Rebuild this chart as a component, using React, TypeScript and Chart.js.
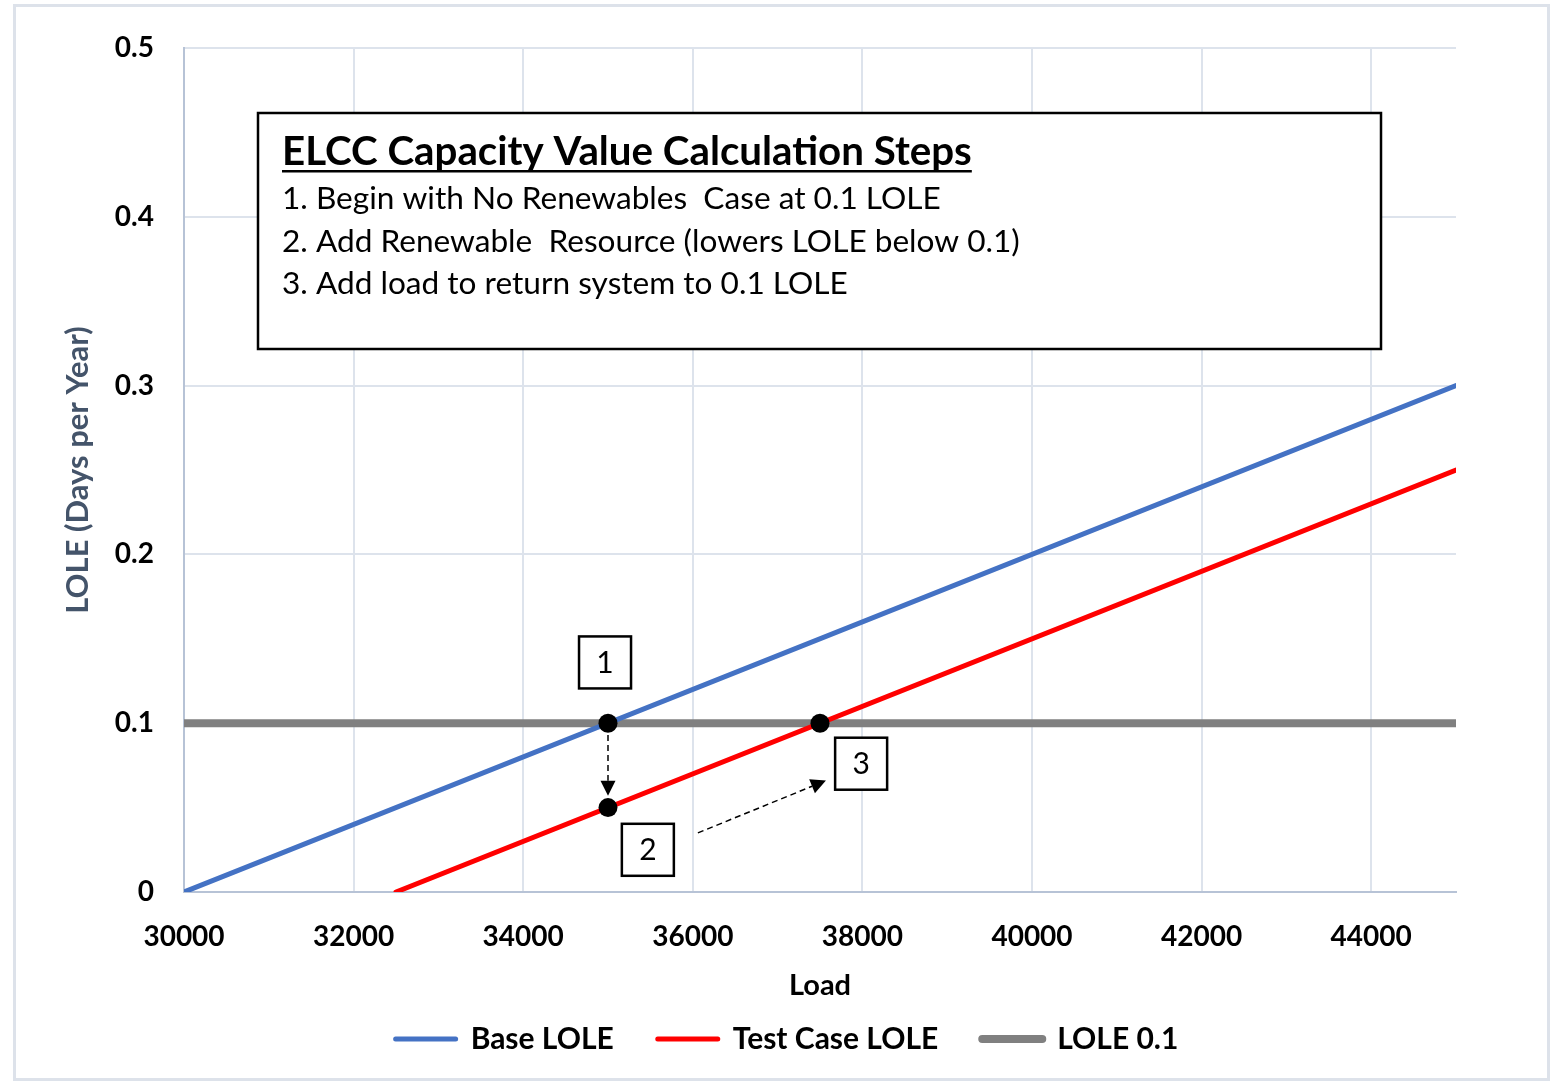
import React, { useEffect, useRef } from "react";
import { Chart, registerables } from "chart.js";

Chart.register(...registerables);

// ---------------- data ----------------
const baseLoad = [30000, 45000];
const baseLole = [0, 0.3];
const testLoad = [32500, 45000];
const testLole = [0, 0.25];
const targetLoad = [30000, 45000];
const targetLole = [0.1, 0.1];
const stepLoad = [35000, 35000, 37500];
const stepLole = [0.1, 0.05, 0.1];

const xTicks = [30000, 32000, 34000, 36000, 38000, 40000, 42000, 44000];
const yTicks = [0, 0.1, 0.2, 0.3, 0.4, 0.5];
const yTickLabels = ["0", "0.1", "0.2", "0.3", "0.4", "0.5"];

const seriesNames = ["Base LOLE", "Test Case LOLE", "LOLE 0.1"];
const xTitle = "Load";
const yTitle = "LOLE (Days per Year)";

const boxTitle = "ELCC Capacity Value Calculation Steps";
const boxLines = [
  "1. Begin with No Renewables  Case at 0.1 LOLE",
  "2. Add Renewable  Resource (lowers LOLE below 0.1)",
  "3. Add load to return system to 0.1 LOLE",
];

// step label boxes (anchored in data units)
const stepLabels = ["1", "2", "3"];
const stepLabelLoad = [34965, 35470, 37985];
const stepLabelLole = [0.136, 0.025, 0.076];

// dashed arrows (data units)
const arrowFromLoad = [35000, 36060];
const arrowFromLole = [0.093, 0.035];
const arrowToLoad = [35000, 37570];
const arrowToLole = [0.057, 0.066];

const FONT = "Lato, 'Open Sans', 'DejaVu Sans', sans-serif";

const W = 1559;
const H = 1084;
const PLOT_LEFT = 184;
const PLOT_BOTTOM = 892;
const PAD_BOTTOM = 20;
const LEGEND_LEFT = 118;

function drawArrow(ctx: CanvasRenderingContext2D, x1: number, y1: number, x2: number, y2: number) {
  const ang = Math.atan2(y2 - y1, x2 - x1);
  const head = 15;
  const half = 7.5;
  const bx = x2 - Math.cos(ang) * head;
  const by = y2 - Math.sin(ang) * head;
  ctx.save();
  ctx.strokeStyle = "#000";
  ctx.lineWidth = 1.5;
  ctx.setLineDash([6, 4]);
  ctx.beginPath();
  ctx.moveTo(x1, y1);
  ctx.lineTo(bx, by);
  ctx.stroke();
  ctx.setLineDash([]);
  ctx.fillStyle = "#000";
  ctx.beginPath();
  ctx.moveTo(x2, y2);
  ctx.lineTo(bx + Math.cos(ang + Math.PI / 2) * half, by + Math.sin(ang + Math.PI / 2) * half);
  ctx.lineTo(bx + Math.cos(ang - Math.PI / 2) * half, by + Math.sin(ang - Math.PI / 2) * half);
  ctx.closePath();
  ctx.fill();
  ctx.restore();
}

function fitFont(ctx: CanvasRenderingContext2D, text: string, weight: string, target: number) {
  ctx.font = `${weight} 100px ${FONT}`;
  const w = ctx.measureText(text).width;
  return (100 * target) / w;
}

const annotationPlugin = {
  id: "annotations",
  afterLayout(chart: any) {
    const lg = chart.legend;
    if (lg) {
      lg.left = LEGEND_LEFT;
      lg.width = lg.right - lg.left;
    }
  },
  beforeDraw(chart: any) {
    const ctx = chart.ctx as CanvasRenderingContext2D;
    ctx.save();
    ctx.fillStyle = "#ffffff";
    ctx.fillRect(0, 0, chart.width, chart.height);
    ctx.strokeStyle = "#dde2ea";
    ctx.lineWidth = 3;
    ctx.strokeRect(14.5, 5.5, 1534, 1074);
    ctx.restore();
  },
  afterDraw(chart: any) {
    const ctx = chart.ctx as CanvasRenderingContext2D;
    const xs = chart.scales.x;
    const ys = chart.scales.y;

    // arrows
    for (let i = 0; i < arrowFromLoad.length; i++) {
      drawArrow(
        ctx,
        xs.getPixelForValue(arrowFromLoad[i]),
        ys.getPixelForValue(arrowFromLole[i]),
        xs.getPixelForValue(arrowToLoad[i]),
        ys.getPixelForValue(arrowToLole[i])
      );
    }

    // numbered boxes
    ctx.save();
    for (let i = 0; i < stepLabels.length; i++) {
      const cx = xs.getPixelForValue(stepLabelLoad[i]);
      const cy = ys.getPixelForValue(stepLabelLole[i]);
      const s = 52;
      ctx.fillStyle = "#fff";
      ctx.fillRect(cx - s / 2, cy - s / 2, s, s);
      ctx.strokeStyle = "#000";
      ctx.lineWidth = 2.5;
      ctx.strokeRect(cx - s / 2, cy - s / 2, s, s);
      ctx.fillStyle = "#000";
      ctx.font = `400 30px ${FONT}`;
      ctx.textAlign = "center";
      ctx.textBaseline = "middle";
      ctx.fillText(stepLabels[i], cx, cy + 1);
    }
    ctx.restore();

    // text box
    ctx.save();
    const bx = 258, by = 113, bw = 1123, bh = 236;
    ctx.fillStyle = "#fff";
    ctx.fillRect(bx, by, bw, bh);
    ctx.strokeStyle = "#000";
    ctx.lineWidth = 2.5;
    ctx.strokeRect(bx, by, bw, bh);

    ctx.fillStyle = "#000";
    ctx.textAlign = "left";
    ctx.textBaseline = "alphabetic";
    const tSize = fitFont(ctx, boxTitle, "700", 690);
    ctx.font = `700 ${tSize}px ${FONT}`;
    const tx = 282;
    ctx.fillText(boxTitle, tx, 165);
    const tw = ctx.measureText(boxTitle).width;
    ctx.fillRect(tx, 170, tw, 2.5);

    const lSize = fitFont(ctx, boxLines[1], "400", 738);
    ctx.font = `400 ${lSize}px ${FONT}`;
    const baselines = [209, 252, 294];
    boxLines.forEach((line, i) => ctx.fillText(line, tx, baselines[i]));
    ctx.restore();
  },
};

export default function App() {
  const ref = useRef<HTMLCanvasElement | null>(null);

  useEffect(() => {
    if (!ref.current) return;
    const toXY = (xs: number[], ys: number[]) => xs.map((x, i) => ({ x, y: ys[i] }));

    const chart = new Chart(ref.current, {
      type: "line",
      data: {
        datasets: [
          {
            label: seriesNames[0],
            data: toXY(baseLoad, baseLole),
            borderColor: "#4472c4",
            backgroundColor: "#4472c4",
            borderWidth: 5,
            pointRadius: 0,
            borderCapStyle: "round",
          },
          {
            label: seriesNames[1],
            data: toXY(testLoad, testLole),
            borderColor: "#ff0000",
            backgroundColor: "#ff0000",
            borderWidth: 5,
            pointRadius: 0,
            borderCapStyle: "round",
          },
          {
            label: seriesNames[2],
            data: toXY(targetLoad, targetLole),
            borderColor: "#808080",
            backgroundColor: "#808080",
            borderWidth: 8,
            pointRadius: 0,
          },
          {
            label: "steps",
            data: toXY(stepLoad, stepLole),
            showLine: false,
            pointRadius: 9.5,
            pointBackgroundColor: "#000",
            pointBorderColor: "#000",
            pointBorderWidth: 0,
            order: -1,
          } as any,
        ],
      },
      options: {
        animation: false,
        responsive: false,
        maintainAspectRatio: false,
        devicePixelRatio: 1,
        layout: { padding: { left: 0, top: 48, right: 103, bottom: PAD_BOTTOM } },
        plugins: {
          tooltip: { enabled: false },
          legend: {
            display: true,
            position: "bottom",
            labels: {
              usePointStyle: true,
              pointStyleWidth: 60,
              padding: 44,
              color: "#000",
              font: { family: FONT, size: 30, weight: "bold" },
              generateLabels: (c: any) =>
                c.data.datasets.slice(0, 3).map((ds: any, i: number) => ({
                  text: ds.label,
                  strokeStyle: ds.borderColor,
                  fillStyle: ds.borderColor,
                  lineWidth: ds.borderWidth,
                  lineCap: "round",
                  pointStyle: "line",
                  hidden: false,
                  datasetIndex: i,
                  fontColor: "#000",
                })),
            },
          },
        },
        scales: {
          x: {
            type: "linear",
            min: 30000,
            max: 45000,
            afterBuildTicks: (s: any) => {
              s.ticks = xTicks.map((v) => ({ value: v }));
            },
            afterFit: (s: any) => {
              const legendH = s.chart.legend ? s.chart.legend.height : 0;
              s.height = H - PAD_BOTTOM - legendH - PLOT_BOTTOM;
            },
            grid: { color: "#dde3ec", lineWidth: 2, drawTicks: false },
            border: { color: "#b7c3d6", width: 2 },
            ticks: {
              padding: 28,
              color: "#000",
              maxRotation: 0,
              font: { family: FONT, size: 28, weight: "bold" },
              callback: (v: any) => String(v),
            },
            title: {
              display: true,
              text: xTitle,
              color: "#000",
              font: { family: FONT, size: 29, weight: "bold" },
              padding: { top: 0, bottom: -23 },
            },
          },
          y: {
            type: "linear",
            min: 0,
            max: 0.5,
            afterBuildTicks: (s: any) => {
              s.ticks = yTicks.map((v) => ({ value: v }));
            },
            afterFit: (s: any) => {
              s.width = PLOT_LEFT;
            },
            grid: { color: "#dde3ec", lineWidth: 2, drawTicks: false },
            border: { color: "#b7c3d6", width: 2 },
            ticks: {
              padding: 30,
              color: "#000",
              font: { family: FONT, size: 28, weight: "bold" },
              callback: (v: any) => {
                const idx = yTicks.findIndex((t) => Math.abs(t - v) < 1e-9);
                return idx >= 0 ? yTickLabels[idx] : "";
              },
            },
            title: {
              display: true,
              text: yTitle,
              color: "#44546a",
              font: { family: FONT, size: 31, weight: "bold" },
              padding: { top: 78 - 18.6, bottom: 0 },
            },
          },
        },
      },
      plugins: [annotationPlugin],
    } as any);

    return () => chart.destroy();
  }, []);

  return (
    <div style={{ position: "fixed", left: 0, top: 0, width: W, height: H, background: "#fff" }}>
      <canvas ref={ref} width={W} height={H} style={{ width: W, height: H, display: "block" }} />
    </div>
  );
}
